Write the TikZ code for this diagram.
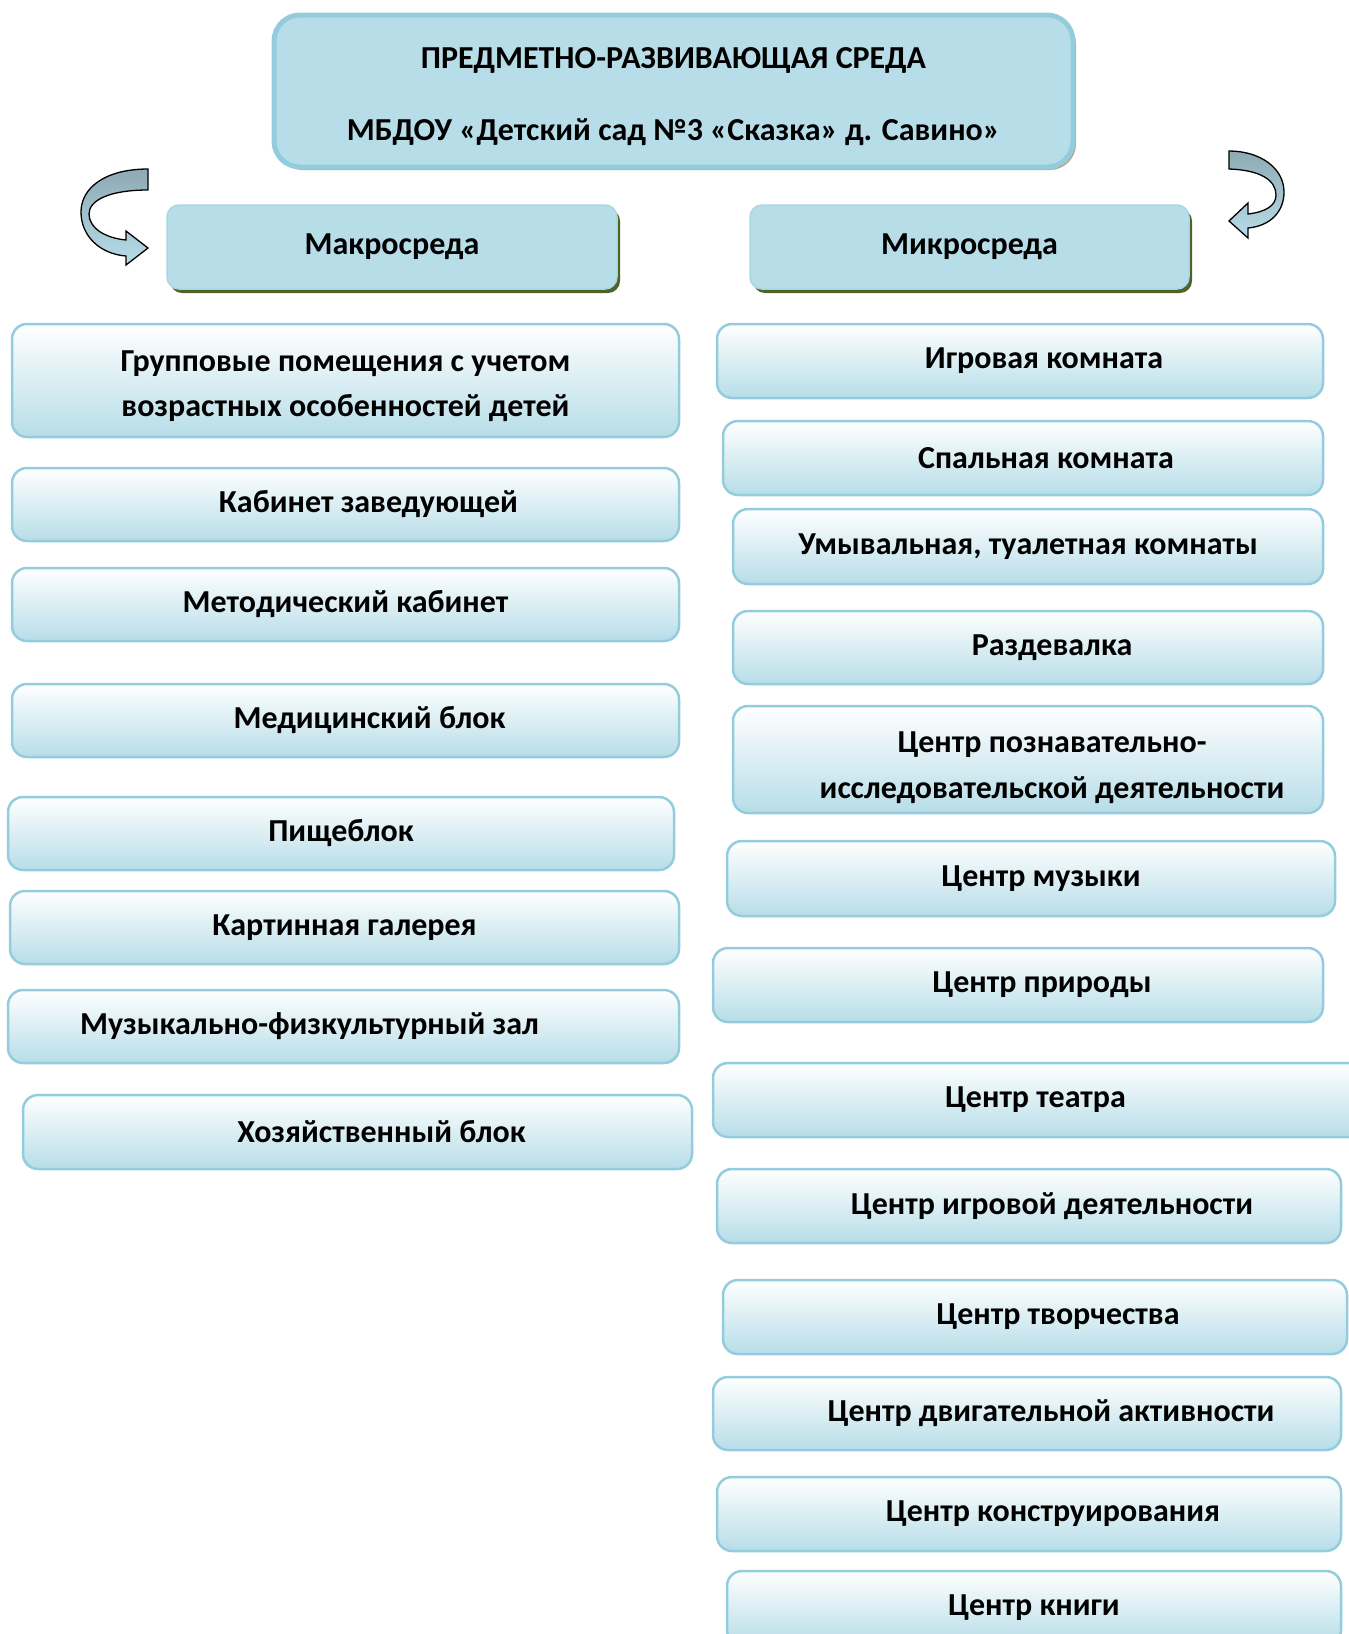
\documentclass[tikz,border=0pt]{standalone}
\usepackage{fontspec}
\setmainfont{Carlito}
\usetikzlibrary{shadows}

\definecolor{headfill}{HTML}{B7DDE8}
\definecolor{titleedge}{HTML}{93CDDD}
\definecolor{titleshadow}{HTML}{B2AE8A}
\definecolor{headedge}{HTML}{A8D7E4}
\definecolor{headshadow}{HTML}{4F6228}
\definecolor{boxedge}{HTML}{93CDDD}
\definecolor{arrowdark}{HTML}{8EAAB4}

\begin{document}
\begin{tikzpicture}[x=1pt,y=-1pt]
	\tikzstyle{titlebox} = [draw=titleedge,line width=5pt,fill=headfill,rounded corners=26pt,align=center,
		drop shadow={shadow xshift=3pt,shadow yshift=-3pt,fill=titleshadow,opacity=1},font=\fontsize{32}{38}\selectfont\bfseries]
	\tikzstyle{headbox} = [draw=headedge,line width=1.5pt,fill=headfill,rounded corners=12pt,
		drop shadow={shadow xshift=3pt,shadow yshift=-4pt,fill=headshadow,opacity=1},font=\fontsize{32}{38}\selectfont\bfseries]
	\tikzstyle{roombox} = [draw=boxedge,line width=2.5pt,rounded corners=15pt,top color=white,bottom color=headfill,
		align=center,font=\fontsize{32}{36}\selectfont\bfseries]
	\tikzstyle{turnarrow} = [draw=black,line width=1.3pt,top color=arrowdark,bottom color=headfill]

	\def\bh{73}
	\def\rt#1{\hspace*{#1pt}}
	\def\up#1{\rule{0pt}{#1pt}}

	\clip (0,0) rectangle (1349,1634);

	% TOP %
	\node[titlebox,minimum width=799,minimum height=152] (sreda) at (673.5,91)
		{\up{32}ПРЕДМЕТНО-РАЗВИВАЮЩАЯ СРЕДА\\[34pt]МБДОУ «Детский сад №3 «Сказка» д. Савино»};
	\node[headbox,minimum width=450,minimum height=84] (makro) at (392,247) {Макросреда};
	\node[headbox,minimum width=439,minimum height=84] (mikro) at (969.5,247) {Микросреда};

	% ARROWS %
	\draw[turnarrow] (148,169) -- (148,190)
		.. controls (110,190) and (89,200) .. (89,214)
		.. controls (89,228) and (105,238) .. (126,240)
		-- (126,231) -- (148,248) -- (126,265) -- (126,256)
		.. controls (100,254) and (81,236) .. (81,212)
		.. controls (81,188) and (105,169) .. (148,169) -- cycle;
	\draw[turnarrow] (1229,151) -- (1229,169)
		.. controls (1260,170) and (1276,180) .. (1276,195)
		.. controls (1276,206) and (1265,212) .. (1248,214)
		-- (1248,203) -- (1229,221) -- (1248,238) -- (1248,228)
		.. controls (1270,226) and (1284,212) .. (1284,192)
		.. controls (1284,168) and (1260,151) .. (1229,151) -- cycle;

	% MAKRO %
	\node[roombox,minimum width=667,minimum height=113] (gruppa) at (345.5,380.5)
		{\up{32}Групповые помещения с учетом\\[9pt]возрастных особенностей детей};
	\node[roombox,minimum width=667,minimum height=\bh] (zav) at (345.5,504.5) {\rt{46}Кабинет заведующей};
	\node[roombox,minimum width=667,minimum height=\bh] (metod) at (345.5,604.5) {Методический кабинет};
	\node[roombox,minimum width=667,minimum height=\bh] (med) at (345.5,720.5) {\rt{48}Медицинский блок};
	\node[roombox,minimum width=666,minimum height=\bh] (pishche) at (341,833.5) {Пищеблок};
	\node[roombox,minimum width=669,minimum height=\bh] (galereya) at (344.5,927.5) {Картинная галерея};
	\node[roombox,minimum width=671,minimum height=\bh] (zal) at (343.5,1026.5) {Музыкально-физкультурный зал\rt{68}};
	\node[roombox,minimum width=669,minimum height=74] (hoz) at (357.5,1132) {\rt{48}Хозяйственный блок};

	% MIKRO %
	\node[roombox,minimum width=606,minimum height=74] (igr) at (1020,361) {\rt{48}Игровая комната};
	\node[roombox,minimum width=600,minimum height=74] (spal) at (1023,458) {\rt{46}Спальная комната};
	\node[roombox,minimum width=590,minimum height=75] (umyv) at (1028,546.5) {Умывальная, туалетная комнаты};
	\node[roombox,minimum width=590,minimum height=\bh] (razd) at (1028,647.5) {\rt{48}Раздевалка};
	\node[roombox,minimum width=590,minimum height=107] (pozn) at (1028,759.5)
		{\up{38}\rt{48}Центр познавательно-\\[10pt]\rt{48}исследовательской деятельности};
	\node[roombox,minimum width=608,minimum height=75] (muz) at (1031,878.5) {\rt{20}Центр музыки};
	\node[roombox,minimum width=610,minimum height=74] (prir) at (1018,985) {\rt{48}Центр природы};
	\node[roombox,minimum width=657,minimum height=74] (teatr) at (1041.5,1100) {Центр театра\rt{12}};
	\node[roombox,minimum width=624,minimum height=74] (igrdej) at (1029,1206) {\rt{46}Центр игровой деятельности};
	\node[roombox,minimum width=624,minimum height=74] (tvor) at (1035,1317) {\rt{46}Центр творчества};
	\node[roombox,minimum width=628,minimum height=\bh] (dvig) at (1027,1413.5) {\rt{48}Центр двигательной активности};
	\node[roombox,minimum width=624,minimum height=74] (konstr) at (1029,1514) {\rt{48}Центр конструирования};
	\node[roombox,minimum width=614,minimum height=74] (kniga) at (1034,1608) {Центр книги};
\end{tikzpicture}
\end{document}
